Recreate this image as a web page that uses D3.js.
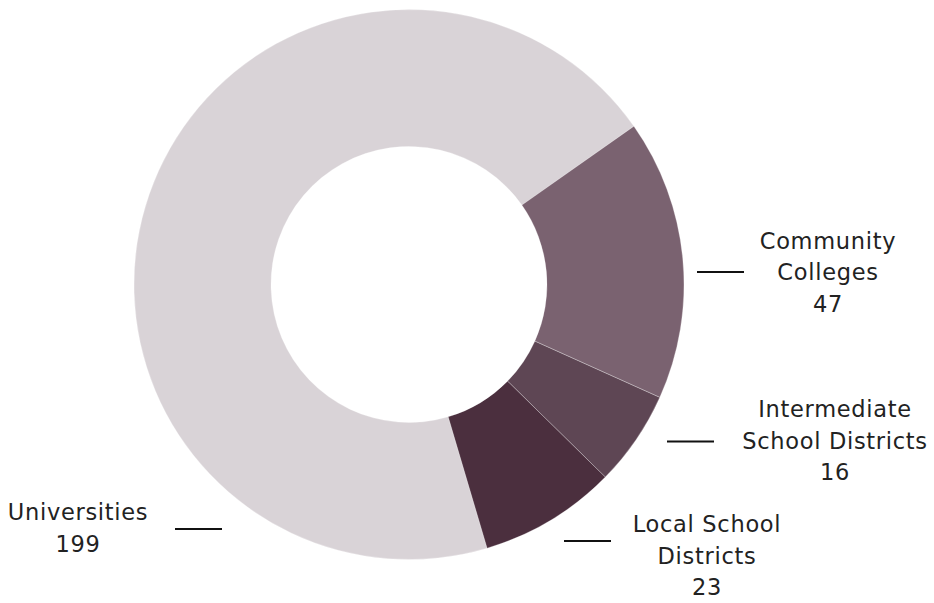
<!DOCTYPE html>
<html>
<head>
<meta charset="utf-8">
<script src="https://cdn.jsdelivr.net/npm/d3@7"></script>
<style>
  html, body { margin: 0; padding: 0; background: #fff; }
  svg { display: block; }
  text { font-family: "DejaVu Sans", sans-serif; fill: #222; letter-spacing: 0.7px; }
</style>
</head>
<body>
<svg id="chart" width="934" height="603"></svg>
<script>
// Institutions by type
const categories = ["Universities", "Community Colleges", "Intermediate School Districts", "Local School Districts"];
const values = [199, 47, 16, 23];
const labelLines = [["Universities"], ["Community", "Colleges"], ["Intermediate", "School Districts"], ["Local School", "Districts"]];
const colors = ["#d9d3d7", "#7a6270", "#5e4654", "#4b2f3e"];

const width = 934, height = 603;
const cx = 409, cy = 284.5;
const outerR = 275, innerR = 138;

// label anchors relative to the donut centre: text centre x, connector line (x1, x2, y), first baseline
const labelLayout = [
  { tx: -331, lx1: -234, lx2: -187, ly: 244.5, by: 235.5 },
  { tx: 419,  lx1: 288,  lx2: 335,  ly: -12.5, by: -36 },
  { tx: 426,  lx1: 258,  lx2: 305,  ly: 157,   by: 132.5 },
  { tx: 298,  lx1: 155,  lx2: 202,  ly: 256.5, by: 247.5 }
];
const lineGap = 31.5;

const data = categories.map((c, i) => ({ name: c, value: values[i], lines: labelLines[i], color: colors[i], layout: labelLayout[i] }));

const startAngle = 163.5 * Math.PI / 180;
const pie = d3.pie().value(d => d.value).sort(null)
  .startAngle(startAngle).endAngle(startAngle + 2 * Math.PI);
const arc = d3.arc().innerRadius(innerR).outerRadius(outerR);

const svg = d3.select("#chart");
const g = svg.append("g").attr("transform", `translate(${cx},${cy})`);

g.selectAll("path.slice")
  .data(pie(data))
  .join("path")
  .attr("class", "slice")
  .attr("d", arc)
  .attr("fill", d => d.data.color)
  .attr("stroke", "rgba(255,255,255,0.35)")
  .attr("stroke-width", 0.8);

const labels = g.selectAll("g.label")
  .data(data)
  .join("g")
  .attr("class", "label");

labels.append("line")
  .attr("x1", d => d.layout.lx1)
  .attr("x2", d => d.layout.lx2)
  .attr("y1", d => d.layout.ly)
  .attr("y2", d => d.layout.ly)
  .attr("stroke", "#111")
  .attr("stroke-width", 2);

labels.append("text")
  .attr("text-anchor", "middle")
  .attr("font-size", 22.5)
  .each(function(d) {
    const t = d3.select(this);
    const rows = d.lines.concat([String(d.value)]);
    rows.forEach((row, i) => {
      t.append("tspan")
        .attr("x", d.layout.tx)
        .attr("y", d.layout.by + i * lineGap)
        .text(row);
    });
  });
</script>
</body>
</html>
